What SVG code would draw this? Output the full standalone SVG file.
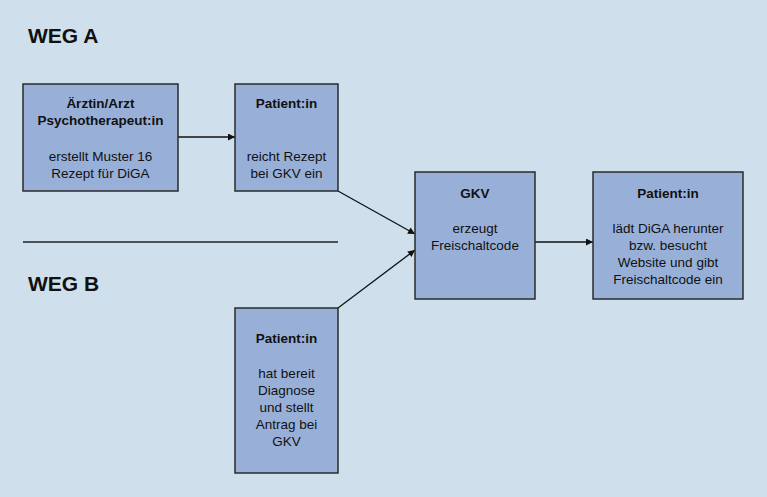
<svg xmlns="http://www.w3.org/2000/svg" width="767" height="497" viewBox="0 0 767 497">
<style>
.box{fill:#98b0d8;stroke:#2b2b2b;stroke-width:1.5}
.t{font-family:"Liberation Sans",Arial,sans-serif;font-size:13.5px;fill:#111;text-anchor:middle}
.b{font-weight:bold}
.h{font-family:"Liberation Sans",Arial,sans-serif;font-size:21px;font-weight:bold;fill:#111}
.c{stroke:#111;stroke-width:1.3;fill:none}
</style>
<defs>
<marker id="ah" viewBox="0 0 10 10" refX="10" refY="5" markerWidth="10" markerHeight="7" markerUnits="userSpaceOnUse" orient="auto">
<path d="M0,0 L10,5 L0,10 z" fill="#111"/>
</marker>
</defs>
<rect width="767" height="497" fill="#cfe0ec"/>
<text class="h" x="28" y="43">WEG A</text>
<text class="h" x="28" y="291">WEG B</text>
<line x1="23" y1="242" x2="338" y2="242" stroke="#222" stroke-width="1.3"/>
<g id="connectors">
<line class="c" x1="178" y1="137" x2="235" y2="137" marker-end="url(#ah)"/>
<line class="c" x1="338" y1="191" x2="415" y2="234" marker-end="url(#ah)"/>
<line class="c" x1="338" y1="308" x2="415" y2="250" marker-end="url(#ah)"/>
<line class="c" x1="535" y1="242" x2="593" y2="242" marker-end="url(#ah)"/>
</g>
<g id="arzt">
<rect class="box" x="23" y="84" width="155" height="107"/>
<text class="t b" x="100.5" y="108">Ärztin/Arzt</text>
<text class="t b" x="100.5" y="125">Psychotherapeut:in</text>
<text class="t" x="100.5" y="161">erstellt Muster 16</text>
<text class="t" x="100.5" y="178">Rezept für DiGA</text>
</g>
<g id="patient-a">
<rect class="box" x="235" y="84" width="103" height="107"/>
<text class="t b" x="286.5" y="108">Patient:in</text>
<text class="t" x="286.5" y="161">reicht Rezept</text>
<text class="t" x="286.5" y="178">bei GKV ein</text>
</g>
<g id="gkv">
<rect class="box" x="415" y="172" width="120" height="127"/>
<text class="t b" x="475" y="198">GKV</text>
<text class="t" x="475" y="233">erzeugt</text>
<text class="t" x="475" y="250">Freischaltcode</text>
</g>
<g id="patient-final">
<rect class="box" x="593" y="172" width="150" height="127"/>
<text class="t b" x="668" y="198">Patient:in</text>
<text class="t" x="668" y="233">lädt DiGA herunter</text>
<text class="t" x="668" y="250">bzw. besucht</text>
<text class="t" x="668" y="267">Website und gibt</text>
<text class="t" x="668" y="284">Freischaltcode ein</text>
</g>
<g id="patient-b">
<rect class="box" x="235" y="308" width="103" height="165"/>
<text class="t b" x="286.5" y="343">Patient:in</text>
<text class="t" x="286.5" y="378">hat bereit</text>
<text class="t" x="286.5" y="395">Diagnose</text>
<text class="t" x="286.5" y="412">und stellt</text>
<text class="t" x="286.5" y="429">Antrag bei</text>
<text class="t" x="286.5" y="446">GKV</text>
</g>
</svg>
